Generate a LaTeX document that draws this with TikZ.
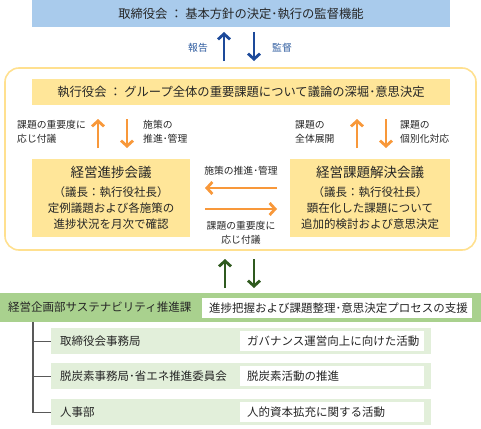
\documentclass[tikz,border=0pt]{standalone}
\usepackage{fontspec}
\setmainfont{Noto Sans CJK JP}
\usetikzlibrary{arrows.meta}

\definecolor{boardblue}{HTML}{A9CBEC}
\definecolor{arrowblue}{HTML}{1D4A9A}
\definecolor{labelblue}{HTML}{2F5C9F}
\definecolor{execyellow}{HTML}{FFE699}
\definecolor{frameyellow}{HTML}{FFE08F}
\definecolor{arroworange}{HTML}{F8983A}
\definecolor{bargreen}{HTML}{A9D18E}
\definecolor{rowgreen}{HTML}{E2EFDA}
\definecolor{arrowgreen}{HTML}{2F5A1F}
\definecolor{treegray}{HTML}{595959}

\tikzset{
	box/.style={inner sep=0pt, text=black!85, font=\fontsize{11.5}{14}\selectfont},
	headline/.style={box, font=\fontsize{12.3}{14}\selectfont},
	small/.style={inner sep=0pt, text=black!85, font=\fontsize{9.8}{14}\selectfont},
	barb/.style={line width=2.8pt, -{Straight Barb[length=5.5pt,width=12pt]}},
	whitebox/.style={box, fill=white, minimum height=20pt, anchor=west, align=left, inner xsep=7pt},
	rowbox/.style={box, fill=rowgreen, minimum width=380pt, minimum height=26pt, anchor=north west}
}

\begin{document}
\begin{tikzpicture}[x=1pt, y=-1pt]
				%%%%% START %%%%%
				\useasboundingbox (0, 0) rectangle (481, 428);

				\node[headline, fill=boardblue, minimum width=418pt, minimum height=27pt] (board) at (241, 13.5) {取締役会 ： 基本方針の決定･執行の監督機能};

				\coordinate (report low) at (224, 61);
				\coordinate (report high) at (224, 32);
				\coordinate (audit high) at (254, 32);
				\coordinate (audit low) at (254, 61);
				\draw[barb, arrowblue] (report low) -- (report high);
				\draw[barb, arrowblue] (audit high) -- (audit low);
				\node[small, text=labelblue] (report) at (198, 48) {報告};
				\node[small, text=labelblue] (audit) at (282, 48) {監督};

				\node[draw=frameyellow, line width=1.6pt, rounded corners=14pt, minimum width=471pt, minimum height=182pt] (frame) at (240.5, 159) {};

				\node[headline, fill=execyellow, minimum width=418pt, minimum height=26pt] (exec) at (241, 92) {執行役会 ： グループ全体の重要課題について議論の深堀･意思決定};

				\node[box, fill=execyellow, minimum width=158pt, minimum height=78pt, align=center, font=\fontsize{11.5}{16}\selectfont] (progress) at (111, 198)
					{{\fontsize{13.5}{16}\selectfont 経営進捗会議}\\[2.5pt]（議長：執行役社長）\\定例議題および各施策の\\進捗状況を月次で確認};
				\node[box, fill=execyellow, minimum width=160pt, minimum height=78pt, align=center, font=\fontsize{11.5}{16}\selectfont] (solve) at (370, 198)
					{{\fontsize{13.5}{16}\selectfont 経営課題解決会議}\\[2.5pt]（議長：執行役社長）\\顕在化した課題について\\追加的検討および意思決定};

				% left pair
				\draw[barb, arroworange] (98, 148) -- (98, 119);
				\draw[barb, arroworange] (127, 119) -- (127, 148);
				\node[small, anchor=west, align=left] (lift left) at (17, 132) {課題の重要度に\\応じ付議};
				\node[small, anchor=west, align=left] (manage left) at (143, 132) {施策の\\推進･管理};

				% right pair
				\draw[barb, arroworange] (357, 148) -- (357, 119);
				\draw[barb, arroworange] (386, 119) -- (386, 148);
				\node[small, anchor=west, align=left] (spread) at (295, 132) {課題の\\全体展開};
				\node[small, anchor=west, align=left] (single) at (400, 132) {課題の\\個別化対応};

				% between meetings
				\draw[barb, arroworange] (277, 188) -- (205, 188);
				\draw[barb, arroworange] (205, 209) -- (277, 209);
				\node[small] (manage mid) at (241, 171) {施策の推進･管理};
				\node[small, align=center] (lift mid) at (241, 233) {課題の重要度に\\応じ付議};

				\coordinate (up low) at (225, 288);
				\coordinate (up high) at (225, 259);
				\coordinate (down high) at (254, 259);
				\coordinate (down low) at (254, 288);
				\draw[barb, arrowgreen] (up low) -- (up high);
				\draw[barb, arrowgreen] (down high) -- (down low);

				\node[box, fill=bargreen, minimum width=481pt, minimum height=29pt] (promo) at (240.5, 307.5) {};
				\node[box, anchor=west] (promo name) at (8, 307.5) {経営企画部サステナビリティ推進課};
				\node[whitebox, text width=256pt] (promo task) at (202, 308) {進捗把握および課題整理･意思決定プロセスの支援};

				\node[rowbox] (row1) at (51, 328) {};
				\node[rowbox] (row2) at (51, 363) {};
				\node[rowbox] (row3) at (51, 399) {};
				\foreach \r/\name/\task in {row1/取締役会事務局/ガバナンス運営向上に向けた活動, row2/脱炭素事務局･省エネ推進委員会/脱炭素活動の推進, row3/人事部/人的資本拡充に関する活動} {
					\node[box, anchor=west] at ([xshift=9pt]\r.west) {\name};
					\node[whitebox, text width=170pt] at ([xshift=189pt]\r.west) {\task};
				}

				\coordinate (tree top) at (33, 322);
				\draw[treegray, line width=1.4pt] (tree top) |- (row3.west);
				\draw[treegray, line width=1.4pt] (row1.west -| tree top) -- (row1.west);
				\draw[treegray, line width=1.4pt] (row2.west -| tree top) -- (row2.west);
				%%%%% END %%%%%
			\end{tikzpicture}
\end{document}
